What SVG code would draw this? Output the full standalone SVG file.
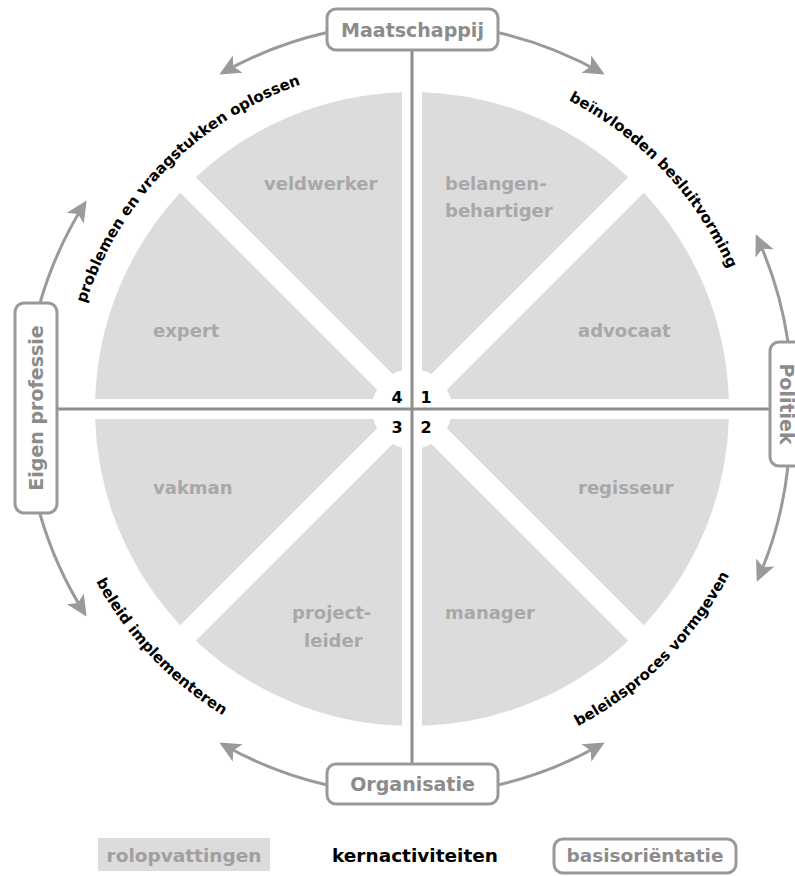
<svg xmlns="http://www.w3.org/2000/svg" width="795" height="876" viewBox="0 0 795 876">
<style>
.sector{fill:#dcdcdc;stroke:none}
.slabel{font-family:"DejaVu Sans",sans-serif;font-weight:bold;font-size:18px;fill:#a8a8a8}
.box{fill:#fff;stroke:#999;stroke-width:3}
.blabel{font-family:"DejaVu Sans",sans-serif;font-weight:bold;font-size:19px;fill:#8c8c8c}
.axis{stroke:#8e8e8e;stroke-width:3;fill:none}
.arc{stroke:#9a9a9a;stroke-width:3;fill:none;marker-end:url(#ah)}
.act{font-family:"DejaVu Sans",sans-serif;font-weight:bold;font-size:15px;fill:#000}
.num{font-family:"DejaVu Sans",sans-serif;font-weight:bold;font-size:16px;fill:#000;text-anchor:middle}
.leg{font-family:"DejaVu Sans",sans-serif;font-weight:bold;font-size:18.5px;text-anchor:middle}
.guide{fill:none;stroke:none}
</style>
<defs>
<marker id="ah" markerUnits="userSpaceOnUse" markerWidth="26" markerHeight="26" viewBox="-21 -13 26 26" refX="0" refY="0" orient="auto">
<path d="M3,0 L-18,-10 L-13,0 L-18,10 Z" fill="#9a9a9a"/>
</marker>
<path id="tp1" class="guide" d="M70.1,382.1 A343,343 0 0,1 379.1,67.6"/>
<path id="tp2" class="guide" d="M451.2,65.2 A346,346 0 0,1 757.4,387.9"/>
<path id="tp3" class="guide" d="M52.7,431 A360,360 0 0,0 371.2,766.7"/>
<path id="tp4" class="guide" d="M430.7,766.5 A358,358 0 0,0 769.5,427.7"/>
</defs>
<rect width="795" height="876" fill="#fff"/>

<g id="sectors">
<g id="belangenbehartiger">
<path class="sector" d="M422,370.27 L422,92.16 A317,317 0 0,1 628.24,177.2 L431.41,374.03 A40,40 0 0,0 422,370.27 Z"/>
<text class="slabel" x="445" y="190">belangen-</text>
<text class="slabel" x="445" y="217">behartiger</text>
</g>
<g id="advocaat">
<path class="sector" d="M450.73,399 L728.84,399 A317,317 0 0,0 643.8,192.76 L446.97,389.59 A40,40 0 0,1 450.73,399 Z"/>
<text class="slabel" x="578" y="337">advocaat</text>
</g>
<g id="regisseur">
<path class="sector" d="M450.73,419 L728.84,419 A317,317 0 0,1 643.8,625.24 L446.97,428.41 A40,40 0 0,0 450.73,419 Z"/>
<text class="slabel" x="578" y="494">regisseur</text>
</g>
<g id="manager">
<path class="sector" d="M422,447.73 L422,725.84 A317,317 0 0,0 628.24,640.8 L431.41,443.97 A40,40 0 0,1 422,447.73 Z"/>
<text class="slabel" x="445" y="619">manager</text>
</g>
<g id="projectleider">
<path class="sector" d="M402,447.73 L402,725.84 A317,317 0 0,1 195.76,640.8 L392.59,443.97 A40,40 0 0,0 402,447.73 Z"/>
<text class="slabel" x="292" y="619">project-</text>
<text class="slabel" x="304" y="647">leider</text>
</g>
<g id="vakman">
<path class="sector" d="M373.27,419 L95.16,419 A317,317 0 0,0 180.2,625.24 L377.03,428.41 A40,40 0 0,1 373.27,419 Z"/>
<text class="slabel" x="153" y="494">vakman</text>
</g>
<g id="expert">
<path class="sector" d="M373.27,399 L95.16,399 A317,317 0 0,1 180.2,192.76 L377.03,389.59 A40,40 0 0,0 373.27,399 Z"/>
<text class="slabel" x="153" y="337">expert</text>
</g>
<g id="veldwerker">
<path class="sector" d="M402,370.27 L402,92.16 A317,317 0 0,0 195.76,177.2 L392.59,374.03 A40,40 0 0,1 402,370.27 Z"/>
<text class="slabel" x="264" y="190">veldwerker</text>
</g>
</g>

<g id="connectors">
<line class="axis" x1="412" y1="50" x2="412" y2="764"/>
<line class="axis" x1="57" y1="409" x2="770" y2="409"/>
<path class="arc" d="M327,32.5 A386,386 0 0,0 222,73"/>
<path class="arc" d="M498,32.5 A386,386 0 0,1 602,73"/>
<path class="arc" d="M788,342 A384,384 0 0,0 757,237"/>
<path class="arc" d="M788,466 A384,384 0 0,1 758,579"/>
<path class="arc" d="M498,785 A386,386 0 0,0 602,744"/>
<path class="arc" d="M327,785 A386,386 0 0,1 222,744"/>
<path class="arc" d="M40,514 A386,386 0 0,0 85,614"/>
<path class="arc" d="M40,303 A386,386 0 0,1 85,203"/>
</g>

<g id="quadrant-numbers">
<text class="num" x="397" y="403">4</text>
<text class="num" x="426" y="403">1</text>
<text class="num" x="397" y="433">3</text>
<text class="num" x="426" y="433">2</text>
</g>

<g id="activities">
<text class="act"><textPath href="#tp1" startOffset="50%" text-anchor="middle">problemen en vraagstukken oplossen</textPath></text>
<text class="act"><textPath href="#tp2" startOffset="50%" text-anchor="middle">beïnvloeden besluitvorming</textPath></text>
<text class="act"><textPath href="#tp3" startOffset="50%" text-anchor="middle">beleid implementeren</textPath></text>
<text class="act"><textPath href="#tp4" startOffset="50%" text-anchor="middle">beleidsproces vormgeven</textPath></text>
</g>

<g id="maatschappij">
<rect class="box" x="327" y="9" width="171" height="41" rx="9"/>
<text class="blabel" x="412.5" y="37" text-anchor="middle">Maatschappij</text>
</g>
<g id="organisatie">
<rect class="box" x="327" y="764" width="171" height="40" rx="9"/>
<text class="blabel" x="412.5" y="791" text-anchor="middle">Organisatie</text>
</g>
<g id="eigenprofessie">
<rect class="box" x="15" y="303" width="42" height="210" rx="9"/>
<text class="blabel" transform="translate(43,408) rotate(-90)" text-anchor="middle">Eigen professie</text>
</g>
<g id="politiek">
<rect class="box" x="770" y="342" width="44" height="124" rx="9"/>
<text class="blabel" transform="translate(780,404) rotate(90)" text-anchor="middle">Politiek</text>
</g>

<g id="legend">
<rect x="98" y="838" width="172" height="33" fill="#dcdcdc"/>
<text class="leg" x="184" y="862" fill="#a0a0a0">rolopvattingen</text>
<text class="leg" x="415" y="862" fill="#000">kernactiviteiten</text>
<rect class="box" x="554" y="839" width="182" height="34" rx="9"/>
<text class="leg" x="645" y="862" fill="#8c8c8c">basisoriëntatie</text>
</g>
</svg>
